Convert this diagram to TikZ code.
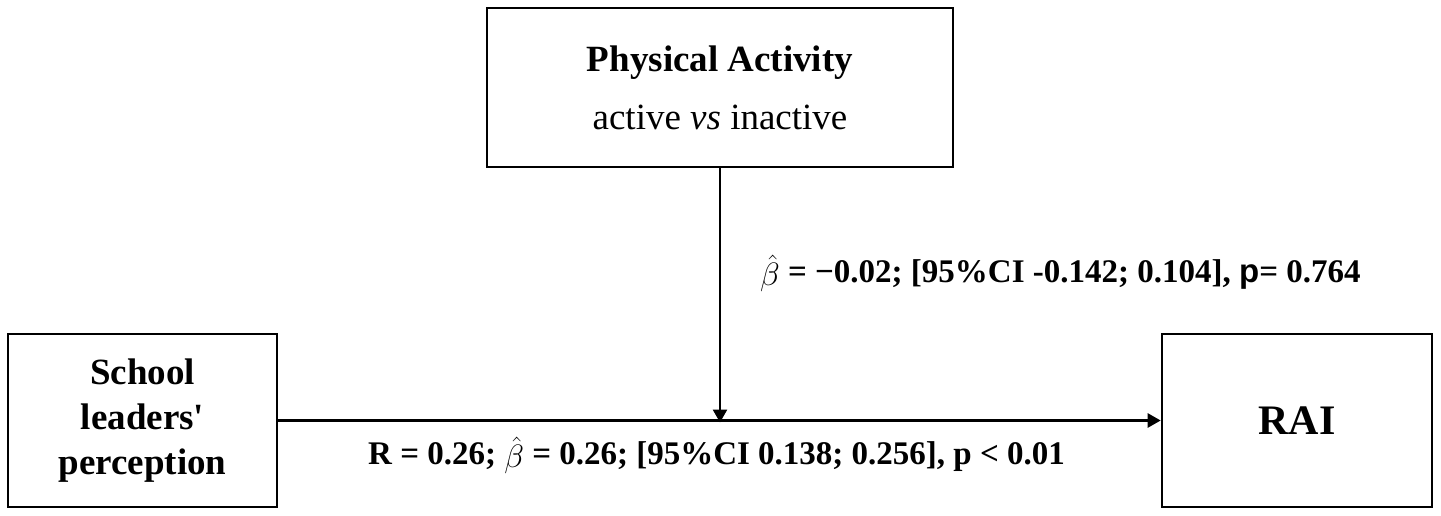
\documentclass[tikz,border=0pt]{standalone}
\usepackage{fontspec}
\setmainfont{Liberation Serif}
\newfontfamily\sansp{Liberation Sans}
\usepackage{graphicx}
\usetikzlibrary{arrows.meta}
\newcommand{\bhat}{\raisebox{-0.12em}{\scalebox{1.3}{$\hat{\beta}$}}}
\begin{document}
\begin{tikzpicture}[x=1pt,y=-1pt,
  box/.style={draw,line width=2.6pt,inner sep=0pt,align=center},
  conn/.style={line width=2.6pt,-{Triangle[length=13pt,width=14pt]}},
  lbl/.style={font=\fontsize{33}{40}\selectfont\bfseries,anchor=base west,inner sep=0pt}]
\useasboundingbox (0,0) rectangle (1441,516);
\node[box,minimum width=466pt,minimum height=159pt,font=\fontsize{37}{58}\selectfont] (pa) at (720,87.5)
  {\textbf{Physical Activity}\\ active \textit{vs} inactive};
\node[box,minimum width=269pt,minimum height=173pt,font=\fontsize{37}{45}\selectfont\bfseries] (sl) at (142.5,420.5)
  {School\\ leaders\textquotesingle\\ perception};
\node[box,minimum width=270pt,minimum height=173pt,font=\fontsize{42}{50}\selectfont\bfseries] (rai) at (1297,420.5) {RAI};
\coordinate (m) at (pa.south |- sl.east);
\draw[conn] (sl.east) -- (rai.west);
\draw[conn] (pa.south) -- ([yshift=-2pt]m);
\node[lbl] (l1) at (760,282) {\bhat{} = −0.02; [95\%CI -0.142; 0.104], {\sansp p}= 0.764};
\node[lbl] (l2) at (368,464) {R = 0.26; \bhat{} = 0.26; [95\%CI 0.138; 0.256], p < 0.01};
\end{tikzpicture}
\end{document}
